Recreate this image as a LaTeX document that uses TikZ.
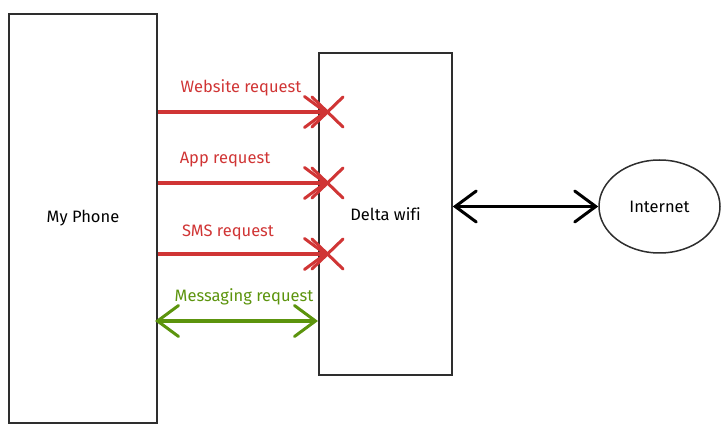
\documentclass[tikz,border=0pt]{standalone}
\usepackage{fontspec}
\setmainfont[Ligatures={NoCommon}]{Fira Sans}
\usetikzlibrary{arrows.meta,shapes.geometric}
\definecolor{xred}{HTML}{D03535}
\definecolor{xgreen}{HTML}{5C940D}
\definecolor{xbox}{HTML}{2E2E2E}
\begin{document}
\begin{tikzpicture}[x=1pt,y=-1pt,
  box/.style={draw=xbox,line width=1.5pt,inner sep=0pt},
  lbl/.style={font=\fontsize{16.5}{19}\selectfont},
  req/.style={line width=3.2pt,-{Straight Barb[length=21pt,width=31pt,line width=3pt,line cap=round]}},
  both/.style={line width=3.2pt,{Straight Barb[length=21pt,width=31pt,line width=3pt,line cap=round]}-{Straight Barb[length=21pt,width=31pt,line width=3pt,line cap=round]}},
  cross/.style={draw=xred,line width=3pt,line cap=round}]
\useasboundingbox (0,0) rectangle (725,443);
% boxes
\node[box,minimum width=148pt,minimum height=409pt] (phone) at (83,218.5) {};
\node[lbl] (phonelbl) at (phone.center) {My Phone};
\node[box,minimum width=133pt,minimum height=322pt] (wifi) at (385.5,214) {};
\node[lbl] (wifilbl) at (wifi.center) {Delta wifi};
\node[draw=xbox,line width=1.5pt,ellipse,minimum width=121pt,minimum height=93pt,inner sep=0pt] (net) at (659.5,206.5) {};
\node[lbl] (netlbl) at (net.center) {Internet};
% request arrows
\coordinate (w1) at (158,112); \coordinate (w2) at (328,112);
\coordinate (a1) at (158,183); \coordinate (a2) at (328,183);
\coordinate (s1) at (158,254); \coordinate (s2) at (328,254);
\coordinate (m1) at (155,321); \coordinate (m2) at (318,321);
\draw[req,xred] (w1) -- (w2);
\draw[req,xred] (a1) -- (a2);
\draw[req,xred] (s1) -- (s2);
\draw[both,xgreen] (m1) -- (m2);
% crosses
\foreach \c in {w2,a2,s2}{
  \draw[cross] ([shift={(-16,-15)}]\c) -- ([shift={(15,15)}]\c);
  \draw[cross] ([shift={(-16,15)}]\c) -- ([shift={(15,-15)}]\c);
}
% labels
\node[lbl,text=xred] (wl) at (241,88) {Website request};
\node[lbl,text=xred] (al) at (225,160) {App request};
\node[lbl,text=xred] (sl) at (228,232) {SMS request};
\node[lbl,text=xgreen] (ml) at (244,297) {Messaging request};
% internet link
\draw[both,black] (wifi.east |- net.west) -- (net.west);
\end{tikzpicture}
\end{document}
